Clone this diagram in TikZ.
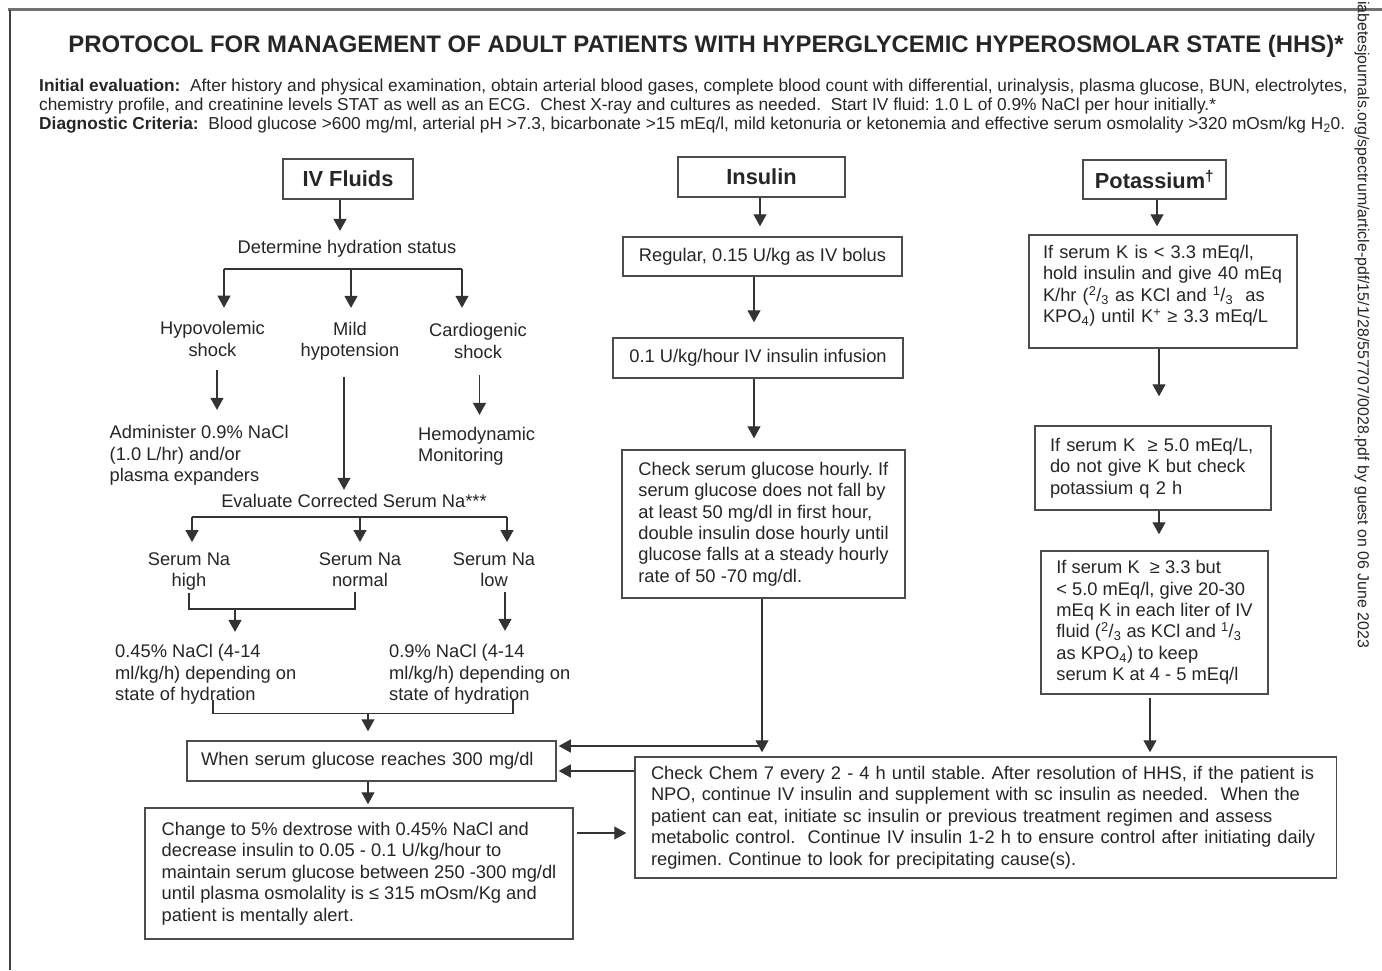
\documentclass[tikz,border=0pt]{standalone}
\usepackage{fontspec}
\setmainfont{Liberation Sans}
\usetikzlibrary{arrows.meta}
\frenchspacing
\newcommand\bodyfont{\fontsize{18.3}{21.4}\selectfont}
\newcommand\headfont{\bfseries\fontsize{21.8}{24}\selectfont}
\tikzset{
  ln/.style={line width=1.3pt, draw=black!80},
  arr/.style={ln, -{Triangle[width=13pt,length=12pt]}},
  box/.style={draw=black!70, line width=1.5pt, inner sep=0pt, align=left, font=\bodyfont, text=black!85},
  hbox/.style={draw=black!70, line width=1.5pt, inner sep=0pt, font=\headfont, text=black!85},
  lbl/.style={inner sep=0pt, align=center, font=\bodyfont, text=black!85},
  lbll/.style={lbl, align=left},
}
\begin{document}
\begin{tikzpicture}[x=1pt,y=-1pt]
\useasboundingbox (0,0) rectangle (1382,970);
\fill[white] (0,0) rectangle (1382,970);
% frame
\draw[black!55, line width=2.2pt] (8,9.5) -- (1382,9.5);
\draw[black!75, line width=1.2pt] (10,9.5) -- (10,970);
% watermark
\node[rotate=-90, anchor=west, inner sep=0pt, font=\fontsize{15.9}{17}\selectfont, text=black!85] (wm) at (1362,1) {iabetesjournals.org/spectrum/article-pdf/15/1/28/557707/0028.pdf by guest on 06 June 2023};
% title and header
\node[inner sep=0pt, font=\bfseries\fontsize{23.9}{27}\selectfont, text=black!85] (title) at (706,46) {PROTOCOL FOR MANAGEMENT OF ADULT PATIENTS WITH HYPERGLYCEMIC HYPEROSMOLAR STATE (HHS)*};
\node[inner sep=0pt, anchor=north west, align=left, font=\fontsize{17.3}{19.2}\selectfont, text=black!85] (hdr) at (39,78.5) {\textbf{Initial evaluation:}\ \ After history and physical examination, obtain arterial blood gases, complete blood count with differential, urinalysis, plasma glucose, BUN, electrolytes,\\chemistry profile, and creatinine levels STAT as well as an ECG.\ \ Chest X-ray and cultures as needed.\ \ Start IV fluid: 1.0 L of 0.9\% NaCl per hour initially.*\\\textbf{Diagnostic Criteria:}\ \ Blood glucose >600 mg/ml, arterial pH >7.3, bicarbonate >15 mEq/l, mild ketonuria or ketonemia and effective serum osmolality >320 mOsm/kg H\textsubscript{2}0.};
% ---------- IV fluids ----------
\node[hbox, minimum width=130pt, minimum height=40pt] (ivf) at (348,179) {IV Fluids};
\node[lbl] (hyd) at (347,249) {Determine hydration status};
\node[lbl] (hypo) at (212.5,339) {Hypovolemic\\shock};
\node[lbl] (mild) at (350,341) {Mild\\hypotension};
\node[lbl] (cardio) at (478,341) {Cardiogenic\\shock};
\node[lbll, anchor=west] (admin) at (109.5,455.4) {Administer 0.9\% NaCl\\(1.0 L/hr) and/or\\plasma expanders};
\node[lbll, anchor=west] (hemo) at (418,446) {Hemodynamic\\Monitoring};
\node[lbl] (evalna) at (354,501) {Evaluate Corrected Serum Na***};
\node[lbl] (nahigh) at (189,571.4) {Serum Na\\high};
\node[lbl] (nanorm) at (360,569.5) {Serum Na\\normal};
\node[lbl] (nalow) at (494,569.5) {Serum Na\\low};
\node[lbll, anchor=west] (salt1) at (115,674.4) {0.45\% NaCl (4-14\\ml/kg/h) depending on\\state of hydration};
\node[lbll, anchor=west] (salt2) at (389,674.4) {0.9\% NaCl (4-14\\ml/kg/h) depending on\\state of hydration};
\node[box, inner xsep=14pt, text width=341pt, minimum height=40pt] (when) at (371.5,761) {When serum glucose reaches 300 mg/dl};
\node[box, minimum width=428pt, minimum height=131pt] (chg) at (359,873.5) {Change to 5\% dextrose with 0.45\% NaCl and\\decrease insulin to 0.05 - 0.1 U/kg/hour to\\maintain serum glucose between 250 -300 mg/dl\\until plasma osmolality is ≤ 315 mOsm/Kg and\\patient is mentally alert.};
% ---------- Insulin ----------
\node[hbox, minimum width=167pt, minimum height=40pt] (ins) at (761.5,177) {Insulin};
\node[box, minimum width=279pt, minimum height=39pt] (reg) at (762.5,256.5) {Regular, 0.15 U/kg as IV bolus};
\node[box, minimum width=290pt, minimum height=40pt] (inf) at (758,358) {0.1 U/kg/hour IV insulin infusion};
\node[box, minimum width=283pt, minimum height=148pt] (chk) at (763.5,524) {Check serum glucose hourly. If\\serum glucose does not fall by\\at least 50 mg/dl in first hour,\\double insulin dose hourly until\\glucose falls at a steady hourly\\rate of 50 -70 mg/dl.};
% ---------- Potassium ----------
\node[hbox, minimum width=143pt, minimum height=39pt] (pot) at (1154.5,179.5) {Potassium\textsuperscript{†}};
\node[box, inner xsep=14pt, text width=240pt, minimum height=113pt] (k1) at (1163,291.5) {If serum K is < 3.3 mEq/l,\\hold insulin and give 40 mEq\\K/hr (\textsuperscript{2}/\textsubscript{3} as KCl and \textsuperscript{1}/\textsubscript{3}\ \ as\\KPO\textsubscript{4}) until K\textsuperscript{+} ≥ 3.3 mEq/L\\[-6.35pt]\mbox{}};
\node[box, inner xsep=15pt, text width=206pt, minimum height=84pt] (k2) at (1153,468) {If serum K\ \ ≥ 5.0 mEq/L,\\do not give K but check\\potassium q 2 h};
\node[box, minimum width=227pt, minimum height=143pt] (k3) at (1154.5,622.5) {If serum K\ \ ≥ 3.3 but\\< 5.0 mEq/l, give 20-30\\mEq K in each liter of IV\\fluid (\textsuperscript{2}/\textsubscript{3} as KCl and \textsuperscript{1}/\textsubscript{3}\\as KPO\textsubscript{4}) to keep\\serum K at 4 - 5 mEq/l};
% ---------- Bottom ----------
\node[box, inner xsep=16pt, text width=669.5pt, minimum height=121pt] (chem) at (985.75,817.5) {Check Chem 7 every 2 - 4 h until stable. After resolution of HHS, if the patient is\\NPO, continue IV insulin and supplement with sc insulin as needed.\ \ When the\\patient can eat, initiate sc insulin or previous treatment regimen and assess\\metabolic control.\ \ Continue IV insulin 1-2 h to ensure control after initiating daily\\regimen. Continue to look for precipitating cause(s).};
% ---------- connectors: IV fluids ----------
\draw[arr, shorten >=9.4pt] ([xshift=-8pt]ivf.south) -- ([xshift=-8pt]ivf.south |- hyd.north);
\coordinate (hb1) at (224,269);
\coordinate (hb2) at (351,269);
\coordinate (hb3) at (462,269);
\draw[ln] (hb1) -- (hb3);
\draw[arr, shorten >=13.7pt] (hb1) -- (hb1 |- hypo.north);
\draw[arr, shorten >=13.7pt] (hb2) -- (hb2 |- mild.north);
\draw[arr, shorten >=15.6pt] (hb3) -- (hb3 |- cardio.north);
\draw[arr, shorten >=15.4pt] ([xshift=4.5pt,yshift=-13.6pt]hypo.south) -- ([xshift=4.5pt]hypo.south |- admin.north);
\draw[arr, shorten >=4.3pt] ([xshift=-6pt,yshift=-16.7pt]mild.south) -- ([xshift=-6pt]mild.south |- evalna.north);
\draw[arr, shorten >=11.7pt] ([xshift=1.5pt,yshift=-16.6pt]cardio.south) -- ([xshift=1.5pt]cardio.south |- hemo.north);
\coordinate (nb1) at (192,517);
\coordinate (nb2) at (360,517);
\coordinate (nb3) at (507,517);
\draw[ln] (nb1) -- (nb3);
\draw[arr, shorten >=10.1pt] (nb1) -- (nb1 |- nahigh.north);
\draw[arr, shorten >=10.1pt] (nb2) -- (nb2 |- nanorm.north);
\draw[arr, shorten >=10.1pt] (nb3) -- (nb3 |- nalow.north);
\draw[ln] ([yshift=-2pt]nahigh.south) -- ++(0,16.3) -| ([xshift=-5pt,yshift=-5pt]nanorm.south);
\coordinate (j1) at (235,609);
\draw[arr, shorten >=12.4pt] (j1) -- (j1 |- salt1.north);
\draw[arr, shorten >=13.4pt] ([xshift=11pt,yshift=-5pt]nalow.south) -- ([xshift=11pt]nalow.south |- salt2.north);
\draw[ln] ([xshift=98pt,yshift=5pt]salt1.south west) -- ++(0,14) -| ([xshift=124pt,yshift=5pt]salt2.south west);
\coordinate (j2) at (368,713.4);
\draw[arr, shorten >=9pt] (j2) -- (j2 |- when.north);
\draw[arr, shorten >=3pt] ([xshift=-3.5pt]when.south) -- ([xshift=-3.5pt]when.south |- chg.north);
% ---------- connectors: insulin ----------
\draw[arr, shorten >=10pt] ([xshift=-1.5pt]ins.south) -- ([xshift=-1.5pt]ins.south |- reg.north);
\draw[arr, shorten >=15pt] ([xshift=-8.5pt]reg.south) -- ([xshift=-8.5pt]reg.south |- inf.north);
\draw[arr, shorten >=11pt] ([xshift=-4pt]inf.south) -- ([xshift=-4pt]inf.south |- chk.north);
\draw[arr, shorten >=4pt] ([xshift=-1.5pt]chk.south) -- ([xshift=-1.5pt]chk.south |- chem.north);
\coordinate (jn) at (762,746);
\draw[arr, shorten >=2pt] (jn) -- (jn -| when.east);
\draw[arr, shorten >=2pt] ([yshift=46.5pt]chem.west) -- ([yshift=46.5pt]chem.west -| when.east);
\draw[arr, shorten <=3pt, shorten >=8pt] ([yshift=40.5pt]chg.east) -- ([yshift=40.5pt]chg.east -| chem.west);
% ---------- connectors: potassium ----------
\draw[arr, shorten >=8pt] ([xshift=2.5pt]pot.south) -- ([xshift=2.5pt]pot.south |- k1.north);
\draw[arr, shorten >=29pt] ([xshift=-4pt]k1.south) -- ([xshift=-4pt]k1.south |- k2.north);
\draw[arr, shorten >=16pt] ([xshift=6pt]k2.south) -- ([xshift=6pt]k2.south |- k3.north);
\draw[arr, shorten <=3pt, shorten >=4pt] ([xshift=-4.5pt]k3.south) -- ([xshift=-4.5pt]k3.south |- chem.north);
\end{tikzpicture}
\end{document}
